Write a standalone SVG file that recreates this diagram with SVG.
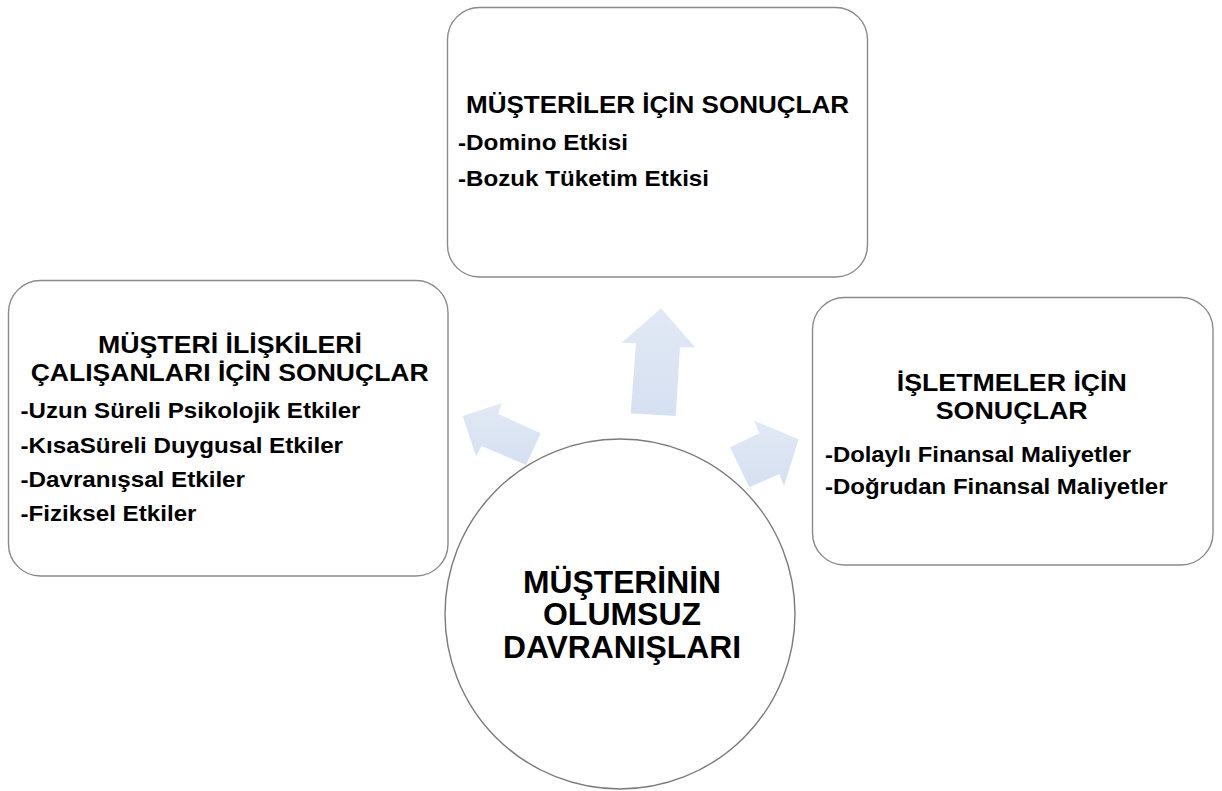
<svg xmlns="http://www.w3.org/2000/svg" width="1222" height="791" viewBox="0 0 1222 791">
  <defs>
    <linearGradient id="arrowFill" x1="0" y1="0" x2="0" y2="1">
      <stop offset="0" stop-color="#e2e9f5"/>
      <stop offset="1" stop-color="#d5e0f1"/>
    </linearGradient>
    <style>
      .box { fill: #ffffff; stroke: #8a8a8a; stroke-width: 1.4; }
      .hub { fill: #ffffff; stroke: #7a7a7a; stroke-width: 1.4; }
      .arrow { fill: url(#arrowFill); stroke: none; }
      text { font-family: "Liberation Sans", Arial, sans-serif; font-weight: bold; fill: #000000; }
      .title { font-size: 24px; text-anchor: middle; }
      .item { font-size: 21.5px; }
      .hubText { font-size: 30.5px; text-anchor: middle; }
    </style>
  </defs>
  <rect width="1222" height="791" fill="#ffffff"/>

  <!-- top: customers -->
  <g id="node-customers">
    <rect class="box" x="447.5" y="7.5" width="420" height="269.5" rx="32" ry="32"/>
    <text class="title" x="657.5" y="113.3" textLength="383" lengthAdjust="spacingAndGlyphs">MÜŞTERİLER İÇİN SONUÇLAR</text>
    <text class="item" x="458" y="150" textLength="170" lengthAdjust="spacingAndGlyphs">-Domino Etkisi</text>
    <text class="item" x="458" y="186" textLength="251" lengthAdjust="spacingAndGlyphs">-Bozuk Tüketim Etkisi</text>
  </g>

  <!-- left: customer relations staff -->
  <g id="node-staff">
    <rect class="box" x="8.5" y="280.5" width="439.5" height="295.5" rx="32" ry="32"/>
    <text class="title" x="230" y="353" textLength="264" lengthAdjust="spacingAndGlyphs">MÜŞTERİ İLİŞKİLERİ</text>
    <text class="title" x="229.7" y="381" textLength="398" lengthAdjust="spacingAndGlyphs">ÇALIŞANLARI İÇİN SONUÇLAR</text>
    <text class="item" x="20.5" y="417.7" textLength="340" lengthAdjust="spacingAndGlyphs">-Uzun Süreli Psikolojik Etkiler</text>
    <text class="item" x="20.5" y="452.7" textLength="322.5" lengthAdjust="spacingAndGlyphs">-KısaSüreli Duygusal Etkiler</text>
    <text class="item" x="20.5" y="486.7" textLength="224.5" lengthAdjust="spacingAndGlyphs">-Davranışsal Etkiler</text>
    <text class="item" x="20.5" y="520.7" textLength="176" lengthAdjust="spacingAndGlyphs">-Fiziksel Etkiler</text>
  </g>

  <!-- right: businesses -->
  <g id="node-business">
    <rect class="box" x="812.5" y="297.5" width="400.5" height="267.5" rx="32" ry="32"/>
    <text class="title" x="1011.8" y="390.7" textLength="230" lengthAdjust="spacingAndGlyphs">İŞLETMELER İÇİN</text>
    <text class="title" x="1011.7" y="419" textLength="152" lengthAdjust="spacingAndGlyphs">SONUÇLAR</text>
    <text class="item" x="825" y="462.3" textLength="306" lengthAdjust="spacingAndGlyphs">-Dolaylı Finansal Maliyetler</text>
    <text class="item" x="825" y="494" textLength="342.5" lengthAdjust="spacingAndGlyphs">-Doğrudan Finansal Maliyetler</text>
  </g>

  <!-- diverging arrows -->
  <g id="connectors">
    <polygon class="arrow" points="661,308.3 695,347.3 680,347.3 675.7,416 630.7,413.3 636,343.3 621.7,342.7"/>
    <polygon class="arrow" points="462.7,416 501.7,403.3 498.3,414 540.7,433.3 526,465 481.7,446 476,456"/>
    <polygon class="arrow" points="798.7,439.3 784,486 779.3,474 749.3,487.3 730,447.3 759.3,433.3 754,420.7"/>
  </g>

  <!-- centre: negative customer behaviour -->
  <g id="node-hub">
    <circle class="hub" cx="620" cy="614" r="175"/>
    <text class="hubText" x="622" y="593.3" textLength="198" lengthAdjust="spacingAndGlyphs">MÜŞTERİNİN</text>
    <text class="hubText" x="622" y="625" textLength="158" lengthAdjust="spacingAndGlyphs">OLUMSUZ</text>
    <text class="hubText" x="622" y="658.3" textLength="238" lengthAdjust="spacingAndGlyphs">DAVRANIŞLARI</text>
  </g>
</svg>
